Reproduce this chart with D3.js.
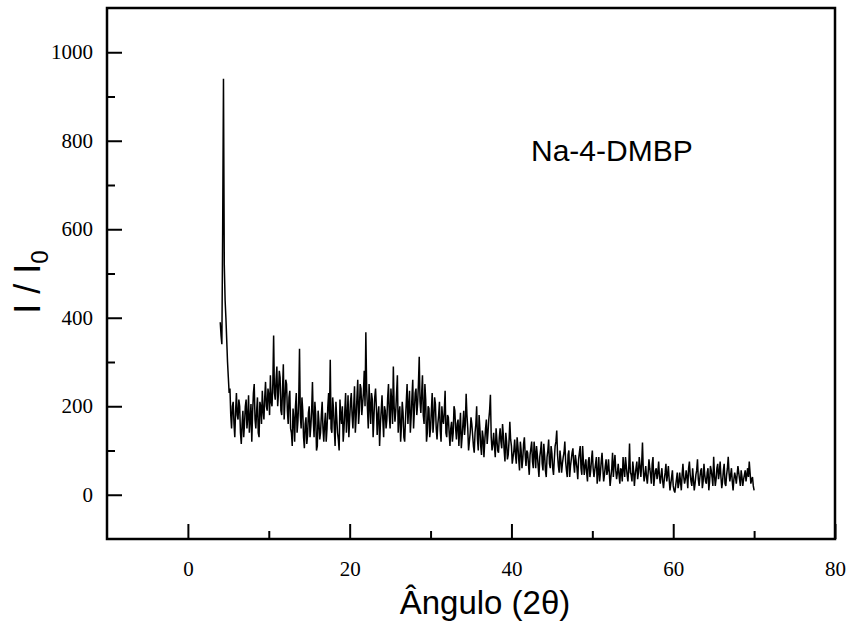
<!DOCTYPE html>
<html>
<head>
<meta charset="utf-8">
<script src="https://cdn.jsdelivr.net/npm/d3@7"></script>
<style>
  body { margin: 0; background: #fff; }
  svg { display: block; }
</style>
</head>
<body>
<div id="wrapper"></div>
<script>
// 2theta scan: regular grid from 4 to 70 degrees
var angleStart = 4;
var angleEnd = 70;

// intensity I/I0, 10 readings per degree
var intensity = [
  390, 360, 340, 600, 940, 520, 440, 400, 350, 300, 265,
  230, 240, 180, 150, 200, 210, 160, 130, 190, 230,
  180, 170, 215, 200, 140, 115, 160, 190, 130, 160,
  200, 215, 150, 175, 225, 140, 170, 205, 120, 185,
  230, 250, 170, 150, 190, 220, 140, 130, 210, 200,
  160, 235, 190, 170, 220, 255, 200, 190, 240, 225,
  180, 270, 210, 200, 250, 360, 230, 215, 260, 290,
  200, 230, 280, 265, 190, 180, 240, 295, 170, 210,
  260, 250, 190, 160, 220, 235, 150, 140, 110, 195,
  170, 120, 200, 230, 140, 165, 210, 330, 180, 150,
  220, 190, 130, 105, 160, 175, 115, 135, 185, 200,
  130, 155, 190, 255, 170, 130, 210, 180, 100, 110,
  190, 165, 125, 140, 180, 210, 150, 120, 160, 185,
  120, 150, 200, 230, 170, 305, 150, 140, 220, 195,
  150, 110, 210, 175, 140, 125, 100, 215, 180, 160,
  200, 120, 150, 190, 230, 140, 175, 225, 130, 170,
  210, 230, 180, 150, 200, 245, 140, 175, 220, 260,
  160, 190, 250, 240, 180, 205, 230, 280, 200, 367,
  240, 195, 150, 250, 200, 160, 230, 215, 130, 175,
  220, 240, 200, 135, 180, 200, 110, 160, 190, 225,
  170, 130, 200, 190, 150, 170, 220, 250, 180, 150,
  240, 210, 160, 290, 200, 165, 190, 230, 270, 140,
  180, 200, 120, 155, 210, 185, 130, 120, 170, 210,
  250, 160, 200, 235, 140, 175, 220, 260, 150, 190,
  230, 240, 180, 205, 250, 312, 210, 185, 230, 270,
  180, 160, 250, 215, 120, 140, 200, 195, 130, 150,
  190, 230, 140, 170, 220, 205, 150, 125, 160, 180,
  210, 145, 120, 200, 170, 160, 190, 235, 140, 130,
  180, 175, 140, 110, 150, 165, 120, 140, 200, 190,
  150, 125, 160, 170, 110, 150, 185, 105, 130, 160,
  190, 135, 160, 228, 180, 150, 100, 120, 140, 175,
  160, 135, 110, 95, 140, 160, 200, 125, 100, 180,
  150, 110, 90, 145, 130, 85, 120, 150, 170, 115,
  140, 170, 190, 226, 130, 100, 115, 140, 110, 85,
  150, 125, 100, 95, 130, 150, 120, 105, 160, 135,
  100, 75, 140, 120, 80, 90, 120, 165, 125, 110,
  70, 85, 100, 125, 90, 70, 130, 110, 80, 55,
  120, 100, 60, 80, 115, 130, 90, 65, 100, 95,
  70, 45, 90, 105, 120, 75, 60, 120, 95, 60,
  110, 90, 65, 40, 85, 100, 120, 70, 55, 115,
  90, 55, 40, 85, 100, 125, 70, 60, 110, 95,
  60, 45, 80, 110, 120, 145, 90, 65, 50, 100,
  80, 50, 70, 85, 95, 120, 75, 55, 40, 90,
  100, 40, 65, 80, 95, 105, 70, 50, 90, 75,
  60, 35, 80, 95, 110, 60, 45, 110, 75, 45,
  65, 80, 50, 30, 75, 85, 40, 55, 80, 100,
  60, 40, 55, 70, 85, 25, 50, 85, 30, 50,
  75, 95, 60, 30, 45, 65, 80, 45, 55, 80,
  50, 20, 40, 60, 95, 40, 70, 90, 55, 35,
  50, 70, 45, 25, 60, 55, 30, 85, 60, 40,
  85, 65, 45, 30, 60, 116, 50, 45, 30, 75,
  55, 20, 45, 60, 75, 35, 50, 85, 65, 40,
  70, 118, 55, 30, 45, 65, 40, 25, 50, 80,
  60, 45, 25, 70, 85, 20, 40, 55, 60, 35,
  50, 75, 40, 25, 45, 60, 30, 15, 35, 50,
  70, 30, 45, 65, 35, 10, 25, 40, 55, 20,
  10, 5, 20, 35, 50, 15, 25, 50, 30, 10,
  45, 70, 40, 25, 35, 55, 40, 15, 60, 75,
  45, 30, 20, 60, 35, 10, 25, 45, 55, 80,
  35, 20, 40, 55, 60, 15, 30, 70, 45, 30,
  25, 50, 60, 10, 30, 65, 55, 40, 20, 86,
  45, 20, 35, 60, 70, 35, 50, 75, 40, 15,
  30, 55, 70, 25, 20, 45, 60, 86, 50, 30,
  45, 60, 30, 10, 35, 50, 40, 25, 45, 65,
  50, 35, 20, 55, 40, 20, 35, 45, 55, 30,
  45, 60, 40, 75, 50, 25, 35, 40, 20, 10
];

var xMajorTicks = [0, 20, 40, 60, 80];
var xMinorTicks = [10, 30, 50, 70];
var yMajorTicks = [0, 200, 400, 600, 800, 1000];
var yMinorTicks = [100, 300, 500, 700, 900];

var dimension = {
    width: 861,
    height: 627,
    margin: { top: 8, left: 107, right: 26, bottom: 88 }
};
dimension.boundedWidth = dimension.width - dimension.margin.left - dimension.margin.right;
dimension.boundedHeight = dimension.height - dimension.margin.top - dimension.margin.bottom;

var step = (angleEnd - angleStart) / (intensity.length - 1);
var dataset = intensity.map((v, i) => ({ x: angleStart + i * step, y: v }));

const svg = d3.select("#wrapper")
    .append("svg")
    .attr("width", dimension.width)
    .attr("height", dimension.height);

const bounded = svg.append("g")
    .attr("transform", `translate(${dimension.margin.left},${dimension.margin.top})`);

const xScaler = d3.scaleLinear()
    .domain([-10, 80])
    .range([0, dimension.boundedWidth]);

const yScaler = d3.scaleLinear()
    .domain([-100, 1100])
    .range([dimension.boundedHeight, 0]);

// data line
const line = d3.line()
    .x(d => xScaler(d.x))
    .y(d => yScaler(d.y));

bounded.append("path")
    .datum(dataset)
    .attr("fill", "none")
    .attr("stroke", "#000")
    .attr("stroke-width", 1.5)
    .attr("d", line);

// axes, ticks point inward
bounded.append("g")
    .attr("transform", `translate(0,${dimension.boundedHeight})`)
    .call(d3.axisBottom(xScaler).tickValues(xMajorTicks).tickSize(-15).tickPadding(22).tickFormat(d3.format("d")));
bounded.append("g")
    .attr("transform", `translate(0,${dimension.boundedHeight})`)
    .call(d3.axisBottom(xScaler).tickValues(xMinorTicks).tickSize(-8).tickFormat(""));

bounded.append("g")
    .call(d3.axisLeft(yScaler).tickValues(yMajorTicks).tickSize(-15).tickPadding(14).tickFormat(d3.format("d")));
bounded.append("g")
    .call(d3.axisLeft(yScaler).tickValues(yMinorTicks).tickSize(-8).tickFormat(""));

bounded.selectAll(".domain").remove();
bounded.selectAll(".tick line").attr("stroke", "#000").attr("stroke-width", 2);
bounded.selectAll(".tick text")
    .attr("fill", "#000")
    .style("font-family", "'Liberation Serif', 'Times New Roman', serif")
    .style("font-size", "21px");

// frame
bounded.append("rect")
    .attr("x", 0)
    .attr("y", 0)
    .attr("width", dimension.boundedWidth)
    .attr("height", dimension.boundedHeight)
    .attr("fill", "none")
    .attr("stroke", "#000")
    .attr("stroke-width", 2.5);

// titles
svg.append("text")
    .attr("x", 485)
    .attr("y", 614)
    .attr("text-anchor", "middle")
    .style("font-family", "'Liberation Sans', Arial, sans-serif")
    .style("font-size", "33px")
    .text("Ângulo (2θ)");

const yTitle = svg.append("text")
    .attr("transform", "translate(40,282) rotate(-90)")
    .attr("text-anchor", "middle")
    .style("font-family", "'Liberation Sans', Arial, sans-serif")
    .style("font-size", "36px");
yTitle.append("tspan").text("I / I");
yTitle.append("tspan").attr("dy", 8).style("font-size", "24px").text("0");

svg.append("text")
    .attr("x", 531)
    .attr("y", 161)
    .style("font-family", "'Liberation Sans', Arial, sans-serif")
    .style("font-size", "30px")
    .text("Na-4-DMBP");
</script>
</body>
</html>
